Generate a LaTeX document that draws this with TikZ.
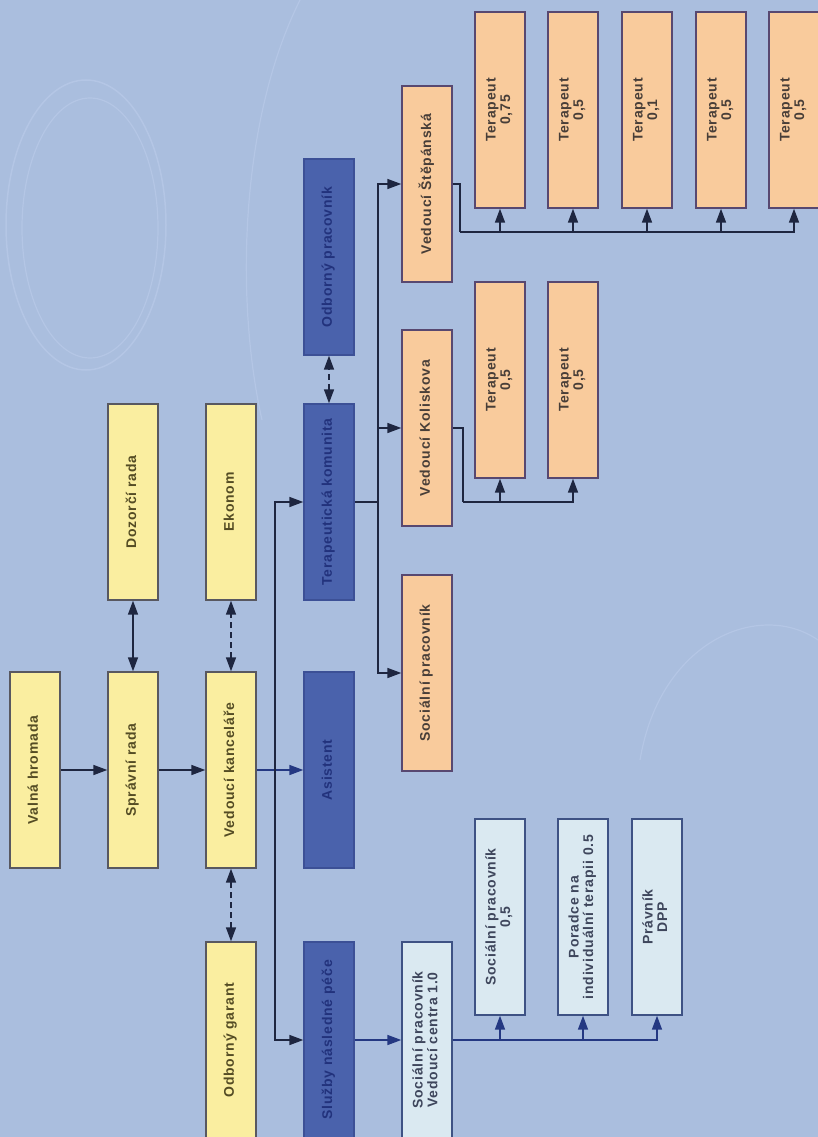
\documentclass[tikz,border=0pt]{standalone}
\usepackage{fontspec}
\newfontfamily\orgfont[LetterSpace=6]{Liberation Sans}
\usetikzlibrary{positioning, calc}
\usetikzlibrary{arrows.meta}

\definecolor{bgblue}{RGB}{170,190,222}
\definecolor{swirl}{RGB}{180,198,229}
\definecolor{ylwfill}{RGB}{250,238,160}
\definecolor{ylwline}{RGB}{88,88,96}
\definecolor{ylwtext}{RGB}{84,76,36}
\definecolor{dbfill}{RGB}{74,98,172}
\definecolor{dbline}{RGB}{60,80,150}
\definecolor{dbtext}{RGB}{34,50,124}
\definecolor{orfill}{RGB}{249,203,156}
\definecolor{orline}{RGB}{88,72,112}
\definecolor{ortext}{RGB}{72,62,56}
\definecolor{ltfill}{RGB}{218,233,241}
\definecolor{ltline}{RGB}{62,82,132}
\definecolor{lttext}{RGB}{62,70,92}
\definecolor{linedark}{RGB}{30,38,64}
\definecolor{lineblue}{RGB}{36,56,130}

\newcommand{\vtext}[1]{\rotatebox{90}{\begin{tabular}{@{}c@{}}#1\end{tabular}}}

\tikzset{
  orgbox/.style={draw, line width=1.4pt, minimum width=50pt, minimum height=196pt,
    inner sep=0pt, font=\orgfont\bfseries\fontsize{14}{14.5}\selectfont},
  ylwbox/.style={orgbox, fill=ylwfill, draw=ylwline, text=ylwtext},
  dbbox/.style={orgbox, fill=dbfill, draw=dbline, text=dbtext},
  orbox/.style={orgbox, fill=orfill, draw=orline, text=ortext},
  ltbox/.style={orgbox, fill=ltfill, draw=ltline, text=lttext},
  conn/.style={draw=linedark, line width=1.6pt},
  arr/.style={conn, -{Triangle[length=14pt,width=10pt]}},
  biarr/.style={conn, {Triangle[length=14pt,width=10pt]}-{Triangle[length=14pt,width=10pt]}},
  dash6/.style={dash pattern=on 6pt off 4pt}
}

\begin{document}
\begin{tikzpicture}[x=1pt, y=-1pt]
    % background
    \fill[bgblue] (0,0) rectangle (818,1137);
    \useasboundingbox (0,0) rectangle (818,1137);
    \draw[swirl, line width=1.5pt] (86,225) ellipse (80 and 145);
    \draw[swirl, line width=1.2pt] (90,228) ellipse (68 and 130);
    \draw[swirl, line width=1.2pt] (300,0) .. controls (240,120) and (235,300) .. (262,420);
    \draw[swirl, line width=1.2pt] (640,760) .. controls (660,640) and (760,600) .. (818,640);

    % board and office
    \node[ylwbox] (valna) at (35,770) {\vtext{Valná hromada}};
    \node[ylwbox] (spravni) at (133,770) {\vtext{Správní rada}};
    \node[ylwbox] (dozorci) at (133,502) {\vtext{Dozorčí rada}};
    \node[ylwbox] (vedouci) at (231,770) {\vtext{Vedoucí kanceláře}};
    \node[ylwbox] (ekonom) at (231,502) {\vtext{Ekonom}};
    \node[ylwbox] (garant) at (231,1040) {\vtext{Odborný garant}};

    % sections
    \node[dbbox] (asistent) at (329,770) {\vtext{Asistent}};
    \node[dbbox] (terkom) at (329,502) {\vtext{Terapeutická komunita}};
    \node[dbbox] (odbprac) at (329,257) {\vtext{Odborný pracovník}};
    \node[dbbox] (sluzby) at (329,1040) {\vtext{Služby následné péče}};

    % community
    \node[orbox] (stepanska) at (427,184) {\vtext{Vedoucí Štěpánská}};
    \node[orbox] (koliskova) at (427,428) {\vtext{Vedoucí Koliskova}};
    \node[orbox] (socprac) at (427,673) {\vtext{Sociální pracovník}};
    \foreach \x/\v [count=\i] in {500/{0,75}, 573/{0,5}, 647/{0,1}, 721/{0,5}, 794/{0,5}}{
        \node[orbox] (ters\i) at (\x,110) {\vtext{Terapeut\\\v}};
    }
    \foreach \x [count=\i] in {500, 573}{
        \node[orbox] (terk\i) at (\x,380) {\vtext{Terapeut\\0,5}};
    }

    % after-care
    \node[ltbox] (vedcentra) at (427,1040) {\vtext{Sociální pracovník\\Vedoucí centra 1.0}};
    \node[ltbox] (lt1) at (500,917) {\vtext{Sociální pracovník\\0,5}};
    \node[ltbox] (lt2) at (583,917) {\vtext{Poradce na\\individuální terapii 0.5}};
    \node[ltbox] (lt3) at (657,917) {\vtext{Právník\\DPP}};

    % connectors
    \draw[arr] (valna) -- (spravni);
    \draw[arr] (spravni) -- (vedouci);
    \draw[biarr] (spravni) -- (dozorci);
    \draw[biarr, dash6] (vedouci) -- (ekonom);
    \draw[biarr, dash6] (vedouci) -- (garant);
    \draw[arr, draw=lineblue] (vedouci) -- (asistent);

    \coordinate (trunk) at (275,770);
    \draw[arr] (trunk) |- (terkom);
    \draw[arr] (trunk) |- (sluzby);
    \draw[biarr, dash6] (terkom) -- (odbprac);

    \coordinate (tk) at (378,502);
    \draw[conn] (terkom) -- (tk);
    \draw[arr] (tk) |- (stepanska);
    \draw[arr] (tk) |- (koliskova);
    \draw[arr] (tk) |- (socprac);

    \coordinate (kbus) at (463,502);
    \draw[conn] (koliskova.east) -| (kbus);
    \foreach \i in {1,2}{
        \draw[arr] (kbus) -| (terk\i);
    }
    \coordinate (sbus) at (460,232);
    \draw[conn] (stepanska.east) -| (sbus);
    \foreach \i in {1,...,5}{
        \draw[arr] (sbus) -| (ters\i);
    }

    \draw[arr, draw=lineblue] (sluzby) -- (vedcentra);
    \foreach \i in {1,2,3}{
        \draw[arr, draw=lineblue] (vedcentra.east) -| (lt\i);
    }
\end{tikzpicture}
\end{document}
